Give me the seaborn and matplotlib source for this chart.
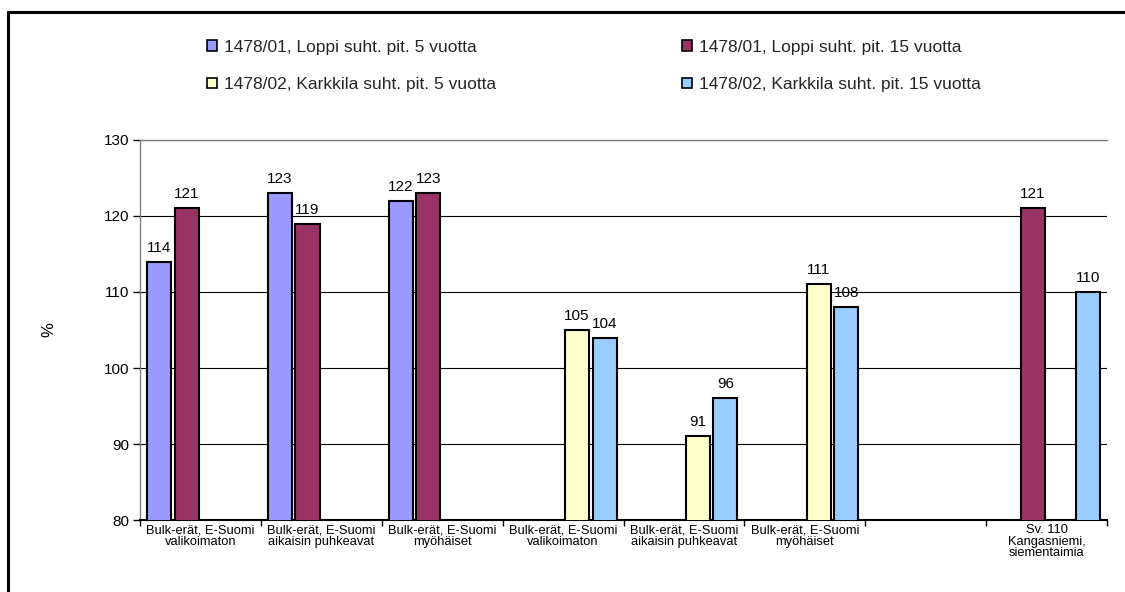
import numpy as np
import pandas as pd
import matplotlib
matplotlib.use("Agg")
import matplotlib.pyplot as plt
from matplotlib.lines import Line2D
from matplotlib.ticker import FixedLocator, NullFormatter
import seaborn as sns

# --- data -------------------------------------------------------------
category_keys = ["c1", "c2", "c3", "c4", "c5", "c6", "c7", "c8"]
category_labels = [
    "Bulk-erät, E-Suomi\nvalikoimaton",
    "Bulk-erät, E-Suomi\naikaisin puhkeavat",
    "Bulk-erät, E-Suomi\nmyöhäiset",
    "Bulk-erät, E-Suomi\nvalikoimaton",
    "Bulk-erät, E-Suomi\naikaisin puhkeavat",
    "Bulk-erät, E-Suomi\nmyöhäiset",
    "",
    "Sv. 110\nKangasniemi,\nsiementaimia",
]
series_names = [
    "1478/01, Loppi suht. pit. 5 vuotta",
    "1478/01, Loppi suht. pit. 15 vuotta",
    "1478/02, Karkkila suht. pit. 5 vuotta",
    "1478/02, Karkkila suht. pit. 15 vuotta",
]
loppi_5 = [114, 123, 122, None, None, None, None, None]
loppi_15 = [121, 119, 123, None, None, None, None, 121]
karkkila_5 = [None, None, None, 105, 91, 111, None, None]
karkkila_15 = [None, None, None, 104, 96, 108, None, 110]
series_colors = ["#9999FF", "#993366", "#FFFFCC", "#99CCFF"]

rows = []
for name, vals in zip(series_names, [loppi_5, loppi_15, karkkila_5, karkkila_15]):
    for key, v in zip(category_keys, vals):
        if v is not None:
            rows.append({"kategoria": key, "sarja": name, "arvo": v})
df = pd.DataFrame(rows)

# --- figure -----------------------------------------------------------
sns.set_style("white")
plt.rcParams["font.family"] = ["Liberation Sans", "DejaVu Sans"]

W, H = 1125, 592
fig = plt.figure(figsize=(W / 100, H / 100), dpi=100)
ax = fig.add_axes([140 / W, 1 - 520 / H, (1107 - 140) / W, (520 - 140) / H])

sns.barplot(
    data=df, x="kategoria", y="arvo", hue="sarja",
    order=category_keys, hue_order=series_names,
    palette=series_colors, saturation=1, width=0.916, gap=0.13,
    edgecolor="black", linewidth=1.5, errorbar=None,
    legend=True, ax=ax, zorder=3,
)

ax.set_ylim(80, 130)
ax.set_xlim(-0.5, len(category_keys) - 0.5)
ax.set_yticks([80, 90, 100, 110, 120, 130])
ax.tick_params(axis="y", direction="out", length=5, width=1, color="black",
               labelsize=11, labelcolor="black", pad=3, left=True)
ax.yaxis.grid(True, color="black", linewidth=0.8, zorder=0)
ax.set_axisbelow(True)

# category labels centred, tick marks on category boundaries
ax.set_xticks(range(len(category_keys)))
ax.set_xticklabels(category_labels, fontsize=9.3, linespacing=0.95)
ax.tick_params(axis="x", which="major", length=0, pad=3, labelcolor="black")
ax.xaxis.set_minor_locator(FixedLocator(np.arange(-0.5, len(category_keys), 1.0)))
ax.xaxis.set_minor_formatter(NullFormatter())
ax.tick_params(axis="x", which="minor", direction="out", length=4, width=1,
               color="black", bottom=True)

for side in ["top", "left"]:
    ax.spines[side].set_color("#808080")
    ax.spines[side].set_linewidth(1)
ax.spines["right"].set_visible(False)
ax.spines["bottom"].set_color("black")
ax.spines["bottom"].set_linewidth(1.5)

ax.set_xlabel("")
ax.set_ylabel("%", fontsize=12, color="black")
ax.yaxis.set_label_coords(-0.086, 0.5)

# value labels above the bars
for cont in ax.containers:
    ax.bar_label(cont, fmt="{:.0f}", padding=5, fontsize=11, color="black")

# legend across the top, two columns
handles, labels = ax.get_legend_handles_labels()
ax.get_legend().remove()
order = [0, 2, 1, 3]
leg = fig.legend(
    [handles[i] for i in order], [labels[i] for i in order],
    ncol=2, loc="upper left", bbox_to_anchor=(191 / W, 1 - 24 / H),
    frameon=False, fontsize=12.5, handlelength=0.6, handleheight=0.55,
    handletextpad=0.4, labelspacing=1.3, columnspacing=10.7,
)
for h in leg.legend_handles:
    h.set_edgecolor("black")
    h.set_linewidth(1.2)

# outer chart frame (left and top edges)
fig.add_artist(Line2D([8 / W, 8 / W], [0, 1 - 12 / H], color="black",
                      linewidth=2.2, transform=fig.transFigure))
fig.add_artist(Line2D([8 / W, 1], [1 - 12 / H, 1 - 12 / H], color="black",
                      linewidth=2.2, transform=fig.transFigure))

fig.savefig("out.png", dpi=100)
